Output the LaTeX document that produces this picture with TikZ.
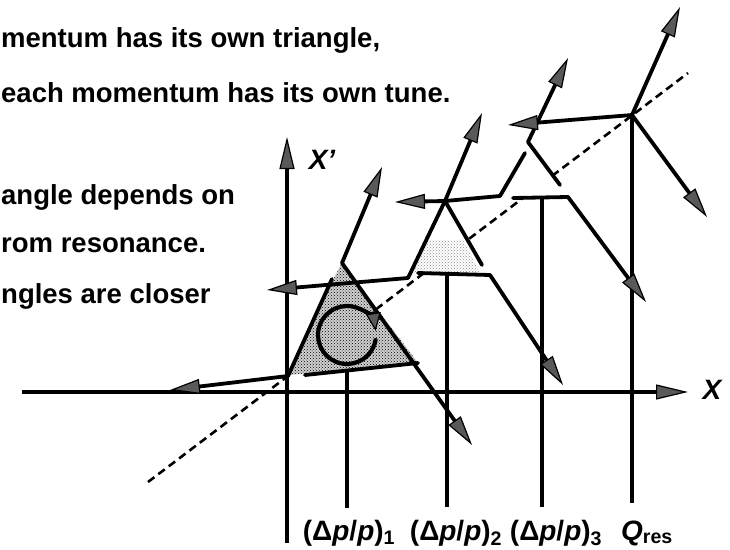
\documentclass[tikz,border=0pt]{standalone}
\usepackage{fontspec}
\setmainfont{Liberation Sans}
\usetikzlibrary{arrows.meta, patterns}

\begin{document}
\begin{tikzpicture}[
    x=1pt, y=-1pt,
    sep/.style={line width=3.8pt, line cap=round, line join=round},
    sepa/.style={sep, -{Triangle[length=30pt, width=15pt, line width=1.2pt, fill=black!65]}},
    axis/.style={line width=3.6pt, -{Triangle[length=32pt, width=15pt, line width=1.2pt, fill=black!65]}},
    tick/.style={line width=3.2pt},
    diag/.style={line width=2.6pt, dash pattern=on 8pt off 5pt},
    stipple/.style={pattern=crosshatch dots, pattern color=black},
    txt/.style={font=\fontsize{27.5}{32}\selectfont\bfseries, anchor=base west, inner sep=0pt},
    lbl/.style={font=\fontsize{28}{32}\selectfont\bfseries, anchor=base}
  ]

  \useasboundingbox (0,0) rectangle (730,549);

  % 説明文（左端で切れている）
  \node[txt] (t1) at (1,47) {mentum has its own triangle,};
  \node[txt] (t2) at (1,102) {each momentum has its own tune.};
  \node[txt] (t3) at (1,204) {angle depends on};
  \node[txt] (t4) at (1,252) {rom resonance.};
  \node[txt] (t5) at (1,303) {ngles are closer};

  % 頂点
  \coordinate (J1) at (342,263);
  \coordinate (J2) at (445,201);
  \coordinate (J3) at (528,142);
  \coordinate (Q) at (632,115);

  % 共鳴線（破線）
  \draw[diag] (148,482) -- (688,73);

  % 三角形の中身
  \fill[black!18] (289,375) -- (334,278) -- (J1) -- (419,364) -- cycle;
  \fill[stipple] (289,375) -- (334,278) -- (J1) -- (419,364) -- cycle;
  \fill[white] (J2) -- (409,275) -- (484,270) -- cycle;
  \fill[stipple, pattern color=black!45] (428,240) -- (411,273) -- (480,272) -- (463,240) -- cycle;
  \fill[white] (J3) -- (503,198) -- (570,198) -- cycle;

  % 軸
  \coordinate (xs) at (22,392);
  \coordinate (xe) at (688,392);
  \coordinate (ys) at (287,543);
  \coordinate (ye) at (287,137);
  \draw[axis] (xs) -- (xe);
  \draw[axis] (ys) -- (ye);
  \node[font=\fontsize{28}{32}\selectfont\bfseries\itshape] (xlab) at (712,390) {X};
  \node[font=\fontsize{28}{32}\selectfont\bfseries\itshape] (xplab) at (322,160) {X'};

  % 運動量ごとの縦線
  \draw[tick] (347,372) -- (347,508);
  \draw[tick] (447,273) -- (447,507);
  \draw[tick] (542,198) -- (542,507);
  \draw[tick] (Q) -- (632,503);

  % 三角形 1
  \draw[sep] (332,279) -- (288,376);
  \draw[sepa] (288,376) -- (170,390);
  \draw[sep] (305,375) -- (418,363);
  \draw[sepa] (J1) -- (472,445);
  \draw[sepa] (J1) -- (382,167);
  \draw[sep, line width=4.2pt, -{Triangle[length=18pt, width=15pt, line width=1.2pt, fill=black!65]}]
    (347,335) ++(10:29) arc[start angle=10, end angle=352, radius=29];

  % 三角形 2
  \draw[sepa] (J2) -- (408,278) -- (267,290);
  \draw[sepa] (J2) -- (482,113);
  \draw[sepa] (525,153) -- (500,196) -- (J2) -- (395,202);
  \draw[sep] (J2) -- (482,265);
  \draw[sepa] (418,273) -- (490,275) -- (563,385);

  % 三角形 3
  \draw[sepa] (J3) -- (568,58);
  \draw[sep] (J3) -- (560,185);
  \draw[sepa] (513,198) -- (568,197) -- (646,302);

  % 共鳴点
  \draw[sepa] (Q) -- (680,7);
  \draw[sepa] (Q) -- (707,217);
  \draw[sepa] (Q) -- (508,125);

  % ラベル
  \node[lbl] (l1) at (349,540) {(Δ\textit{p}/\textit{p})\textsubscript{1}};
  \node[lbl] (l2) at (456,540) {(Δ\textit{p}/\textit{p})\textsubscript{2}};
  \node[lbl] (l3) at (556,540) {(Δ\textit{p}/\textit{p})\textsubscript{3}};
  \node[lbl] (l4) at (647,540) {\textit{Q}\textsubscript{res}};

\end{tikzpicture}
\end{document}
